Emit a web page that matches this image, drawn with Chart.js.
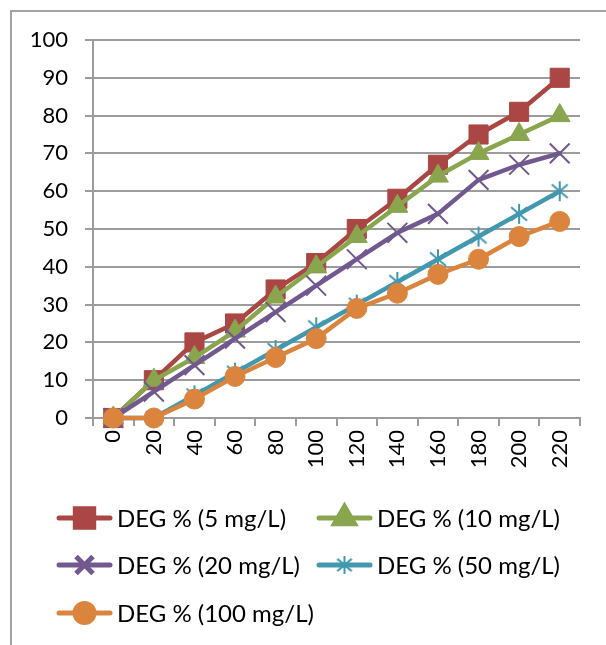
<!DOCTYPE html>
<html>
<head>
<meta charset="utf-8">
<script src="https://cdn.jsdelivr.net/npm/chart.js@4.4.1/dist/chart.umd.min.js"></script>
<style>
  html, body { margin: 0; padding: 0; background: #ffffff; }
  #wrap { position: relative; width: 606px; height: 645px; overflow: hidden; }
  #frame { position: absolute; left: 10px; top: 10px; width: 900px; height: 900px;
           border-left: 2px solid #a3a3a3; border-top: 2px solid #a3a3a3; pointer-events: none; }
  #c { position: absolute; left: 0; top: 0; }
</style>
</head>
<body>
<div id="wrap">
  <div id="frame"></div>
  <canvas id="c" width="606" height="645"></canvas>
</div>
<script>
// Irradiation time (x categories)
const timeLabels = ['0', '20', '40', '60', '80', '100', '120', '140', '160', '180', '200', '220'];

// Degradation (%) for each initial concentration
const deg5mg   = [0, 10, 20, 25, 34, 41, 50, 58, 67, 75, 81, 90];
const deg10mg  = [0, 10, 16, 23, 32, 40, 48, 56, 64, 70, 75, 80];
const deg20mg  = [0, 7, 14, 21, 28, 35, 42, 49, 54, 63, 67, 70];
const deg50mg  = [0, 0, 6, 12, 18, 24, 30, 36, 42, 48, 54, 60];
const deg100mg = [0, 0, 5, 11, 16, 21, 29, 33, 38, 42, 48, 52];

const seriesNames = ['DEG % (5 mg/L)', 'DEG % (10 mg/L)', 'DEG % (20 mg/L)', 'DEG % (50 mg/L)', 'DEG % (100 mg/L)'];
const seriesValues = [deg5mg, deg10mg, deg20mg, deg50mg, deg100mg];

// y-axis tick values
const yTicks = [0, 10, 20, 30, 40, 50, 60, 70, 80, 90, 100];

const seriesColors = ['#AA4643', '#89A54E', '#71588F', '#4198AF', '#DB843D'];
const FONT = 'Lato, "Open Sans", "Liberation Sans", sans-serif';
const GRID = '#9c9c9c';

// Asterisk marker: vertical bar crossed by an X
function asteriskMarker(color, half) {
  const size = Math.ceil(half * 2 + 4);
  const c = document.createElement('canvas');
  c.width = size; c.height = size;
  const g = c.getContext('2d');
  g.strokeStyle = color;
  g.lineWidth = 2;
  const m = size / 2;
  const d = half * 0.8;
  g.beginPath();
  g.moveTo(m, m - half); g.lineTo(m, m + half);
  g.moveTo(m - d, m - d * 0.85); g.lineTo(m + d, m + d * 0.85);
  g.moveTo(m - d, m + d * 0.85); g.lineTo(m + d, m - d * 0.85);
  g.stroke();
  return c;
}

const markerStyles = [
  { pointStyle: 'rect', radius: 13.5, borderWidth: 1, legendRadius: 13 },
  { pointStyle: 'triangle', radius: 12, borderWidth: 1, legendRadius: 11.5 },
  { pointStyle: 'crossRot', radius: 14, borderWidth: 2, legendRadius: 12 },
  { pointStyle: asteriskMarker(seriesColors[3], 10), radius: 11, borderWidth: 0,
    legendStyle: asteriskMarker(seriesColors[3], 9), legendRadius: 10 },
  { pointStyle: 'circle', radius: 10, borderWidth: 1, legendRadius: 9.5 }
];

const datasets = seriesValues.map((vals, i) => ({
  label: seriesNames[i],
  data: vals,
  borderColor: seriesColors[i],
  backgroundColor: seriesColors[i],
  borderWidth: 4.5,
  borderJoinStyle: 'round',
  borderCapStyle: 'round',
  tension: 0,
  pointStyle: markerStyles[i].pointStyle,
  pointRadius: markerStyles[i].radius,
  pointBorderWidth: markerStyles[i].borderWidth,
  pointBackgroundColor: seriesColors[i],
  pointBorderColor: seriesColors[i],
  clip: false,
  order: seriesValues.length - i
}));

// Legend with a line segment through each marker, laid out in two columns
const legendBox = {
  id: 'lineLegend',
  afterDraw(chart) {
    const ctx = chart.ctx;
    const cols = [57, 317];
    const rows = [518, 565, 613];
    const segLen = 55;
    ctx.save();
    datasets.forEach((ds, i) => {
      const x0 = cols[i % 2];
      const y = rows[Math.floor(i / 2)];
      const mk = markerStyles[i];
      ctx.strokeStyle = ds.borderColor;
      ctx.lineWidth = 5;
      ctx.lineCap = 'round';
      ctx.beginPath();
      ctx.moveTo(x0 + 2, y);
      ctx.lineTo(x0 + segLen - 2, y);
      ctx.stroke();
      ctx.fillStyle = ds.pointBackgroundColor;
      ctx.strokeStyle = ds.pointBorderColor;
      ctx.lineCap = 'butt';
      Chart.helpers.drawPoint(ctx, {
        pointStyle: mk.legendStyle || mk.pointStyle,
        radius: mk.legendRadius,
        rotation: 0,
        borderWidth: mk.borderWidth
      }, x0 + segLen / 2, y);
      ctx.fillStyle = '#000000';
      ctx.font = '24px ' + FONT;
      ctx.textBaseline = 'middle';
      ctx.textAlign = 'left';
      ctx.fillText(ds.label, x0 + segLen + 5, y + 1);
    });
    ctx.restore();
  }
};

new Chart(document.getElementById('c'), {
  type: 'line',
  data: { labels: timeLabels, datasets },
  options: {
    responsive: false,
    animation: false,
    events: [],
    layout: { padding: { left: 0, right: 26, top: 40, bottom: 0 } },
    plugins: { legend: { display: false }, tooltip: { enabled: false } },
    scales: {
      x: {
        type: 'category',
        offset: true,
        afterFit(scale) { scale.height = 645 - 418; },
        grid: { offset: true, drawOnChartArea: false, drawTicks: true, tickLength: 8, color: GRID, lineWidth: 2 },
        border: { color: GRID, width: 2 },
        ticks: { minRotation: 90, maxRotation: 90, padding: 4, color: '#000000', font: { family: FONT, size: 22 } }
      },
      y: {
        min: 0,
        max: 100,
        afterFit(scale) { scale.width = 93; },
        afterBuildTicks(scale) { scale.ticks = yTicks.map(v => ({ value: v })); },
        grid: { color: GRID, lineWidth: 2, tickLength: 8 },
        border: { color: GRID, width: 2 },
        ticks: { padding: 17, color: '#000000', font: { family: FONT, size: 22 } }
      }
    }
  },
  plugins: [legendBox]
});
</script>
</body>
</html>
